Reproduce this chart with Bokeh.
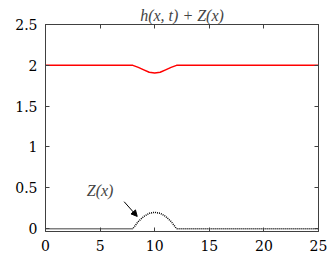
from bokeh.plotting import figure
from bokeh.models import LinearAxis, Range1d, FixedTicker, Arrow, NormalHead, Label
from bokeh.embed import file_html
from bokeh.resources import INLINE

# data
x_pts = [0, 8, 8.5, 9, 9.5, 10, 10.5, 11, 11.5, 12, 25]
z_pts = [0, 0, 0.0875, 0.15, 0.1875, 0.2, 0.1875, 0.15, 0.0875, 0, 0]
surf_pts = [2.0, 2.0, 1.975, 1.945, 1.915, 1.905, 1.915, 1.945, 1.975, 2.0, 2.0]
x_ticks = [0, 5, 10, 15, 20, 25]
y_ticks = [0, 0.5, 1, 1.5, 2, 2.5]
y_tick_labels = {0: "0", 0.5: "0.5", 1: "1", 1.5: "1.5", 2: "2", 2.5: "2.5"}
title_text = "h(x, t) + Z(x)"
note_text = "Z(x)"

FONT = "DejaVu Serif"
EDGE = "#404040"

p = figure(width=330, height=255, output_backend="svg", toolbar_location=None,
           x_range=Range1d(0, 25), y_range=Range1d(-0.035, 2.5),
           min_border_left=45, min_border_right=12, min_border_top=24, min_border_bottom=24)
p.title.text = title_text
p.title.text_font = "Liberation Serif"
p.title.text_font_style = "italic"
p.title.text_font_size = "16px"
p.title.align = "center"
p.title.offset = 0
p.title.standoff = 2

p.line(x_pts, surf_pts, line_color="#ff0000", line_width=1.5)
p.line(x_pts, z_pts, line_color="black", line_width=1.5, line_dash="1 1")

p.xgrid.visible = False
p.ygrid.visible = False
p.outline_line_color = EDGE
p.outline_line_width = 1

for ax in (p.xaxis[0], p.yaxis[0]):
    ax.major_label_text_font = FONT
    ax.major_label_text_font_size = "14px"
    ax.major_label_text_color = "black"
    ax.major_tick_in = 4
    ax.major_tick_out = 0
    ax.minor_tick_line_color = None
    ax.axis_line_color = EDGE
    ax.major_tick_line_color = EDGE
p.xaxis[0].ticker = FixedTicker(ticks=x_ticks)
p.yaxis[0].ticker = FixedTicker(ticks=y_ticks)
p.yaxis[0].major_label_overrides = y_tick_labels
p.xaxis[0].major_label_standoff = 8
p.yaxis[0].major_label_standoff = 8

top = LinearAxis(ticker=FixedTicker(ticks=x_ticks),
                 major_label_overrides={t: "" for t in x_ticks},
                 major_tick_in=4, major_tick_out=0, minor_tick_line_color=None,
                 axis_line_color=EDGE, major_tick_line_color=EDGE, major_label_standoff=0)
right = LinearAxis(ticker=FixedTicker(ticks=y_ticks),
                   major_label_overrides={t: "" for t in y_ticks},
                   major_tick_in=4, major_tick_out=0, minor_tick_line_color=None,
                   axis_line_color=EDGE, major_tick_line_color=EDGE, major_label_standoff=0)
p.add_layout(top, "above")
p.add_layout(right, "right")

p.add_layout(Label(x=5.0, y=0.47, text=note_text, text_font="Times New Roman", text_font_style="italic",
                   text_font_size="16px", text_align="center", text_baseline="middle"))
p.add_layout(Arrow(x_start=7.2, y_start=0.33, x_end=8.4, y_end=0.15, line_width=1,
                   end=NormalHead(size=6, fill_color="black", line_color="black")))

open("out.html", "w").write(file_html(p, INLINE))
